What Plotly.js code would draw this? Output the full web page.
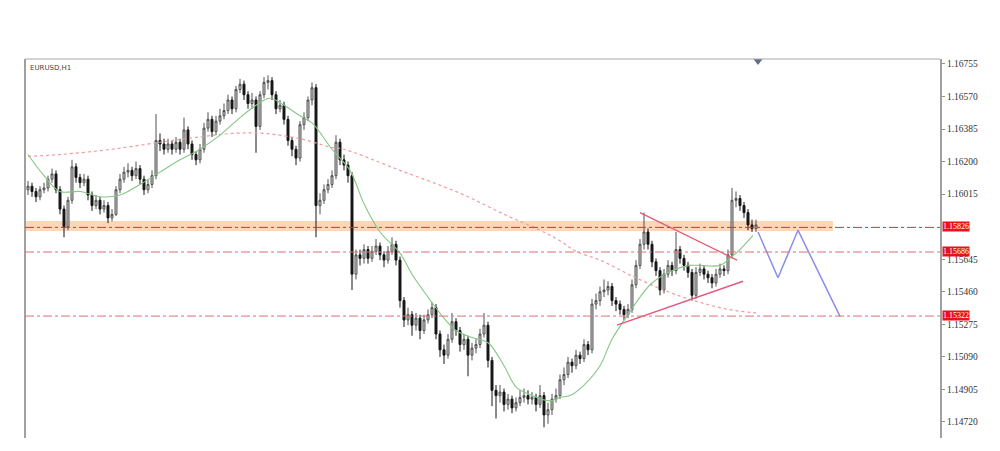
<!DOCTYPE html>
<html>
<head>
<meta charset="utf-8">
<script src="https://cdn.plot.ly/plotly-3.0.1.min.js"></script>
<style>
  html, body { margin: 0; padding: 0; background: #fff; }
  #chart { width: 1000px; height: 451px; }
</style>
</head>
<body>
<div id="chart"></div>
<script>
// EURUSD H1 candles, oldest first
const open = [
  1.1604,1.1606,1.1603,1.1600,1.1604,1.1605,1.1610,1.1613,1.1604,1.1593,
  1.1583,1.1598,1.1617,1.1611,1.1608,1.1610,1.1601,1.1595,1.1598,1.1593,
  1.1595,1.1588,1.1590,1.1604,1.1610,1.1614,1.1615,1.1612,1.1616,1.1610,
  1.1604,1.1607,1.1612,1.1632,1.1630,1.1627,1.1630,1.1627,1.1631,1.1627,
  1.1638,1.1630,1.1624,1.1621,1.1627,1.1639,1.1644,1.1637,1.1643,1.1646,
  1.1649,1.1655,1.1650,1.1661,1.1664,1.1658,1.1653,1.1655,1.1640,1.1658,
  1.1665,1.1666,1.1658,1.1650,1.1652,1.1644,1.1632,1.1627,1.1622,1.1641,
  1.1645,1.1655,1.1662,1.1595,1.1598,1.1604,1.1607,1.1612,1.1631,1.1621,
  1.1618,1.1612,1.1556,1.1567,1.1565,1.1570,1.1565,1.1569,1.1572,1.1567,
  1.1564,1.1569,1.1573,1.1564,1.1541,1.1530,1.1533,1.1527,1.1531,1.1524,
  1.1530,1.1533,1.1537,1.1522,1.1513,1.1510,1.1519,1.1529,1.1524,1.1516,
  1.1519,1.1510,1.1514,1.1516,1.1522,1.1527,1.1507,1.1490,1.1487,1.1489,
  1.1482,1.1485,1.1480,1.1483,1.1486,1.1487,1.1485,1.1486,1.1482,1.1487,
  1.1476,1.1479,1.1485,1.1487,1.1496,1.1499,1.1506,1.1504,1.1510,1.1508,
  1.1516,1.1513,1.1539,1.1541,1.1546,1.1547,1.1549,1.1541,1.1539,1.1536,
  1.1533,1.1536,1.1550,1.1561,1.1573,1.1580,1.1573,1.1563,1.1558,1.1547,
  1.1556,1.1561,1.1558,1.1570,1.1565,1.1561,1.1557,1.1544,1.1557,1.1559,
  1.1556,1.1554,1.1551,1.1556,1.1559,1.1558,1.1567,1.1598,1.1599,1.1595,
  1.1591,1.1584,1.1582
];
const high = [
  1.1609,1.1608,1.1605,1.1606,1.1608,1.1612,1.1616,1.1615,1.1606,1.1595,
  1.1600,1.1621,1.1619,1.1613,1.1613,1.1612,1.1603,1.1601,1.1600,1.1598,
  1.1597,1.1593,1.1606,1.1613,1.1617,1.1619,1.1617,1.1620,1.1618,1.1612,
  1.1610,1.1615,1.1647,1.1636,1.1633,1.1633,1.1632,1.1634,1.1633,1.1645,
  1.1640,1.1632,1.1626,1.1630,1.1642,1.1648,1.1646,1.1646,1.1650,1.1653,
  1.1658,1.1657,1.1663,1.1667,1.1666,1.1660,1.1659,1.1657,1.1660,1.1668,
  1.1669,1.1668,1.1660,1.1655,1.1654,1.1646,1.1634,1.1629,1.1643,1.1648,
  1.1657,1.1665,1.1664,1.1602,1.1607,1.1610,1.1615,1.1635,1.1633,1.1624,
  1.1620,1.1614,1.1570,1.1570,1.1573,1.1572,1.1572,1.1576,1.1574,1.1569,
  1.1572,1.1577,1.1575,1.1566,1.1543,1.1537,1.1535,1.1534,1.1533,1.1533,
  1.1536,1.1540,1.1539,1.1524,1.1516,1.1522,1.1534,1.1531,1.1526,1.1522,
  1.1521,1.1517,1.1519,1.1525,1.1534,1.1529,1.1509,1.1493,1.1493,1.1491,
  1.1488,1.1487,1.1486,1.1490,1.1491,1.1490,1.1489,1.1488,1.1493,1.1489,
  1.1483,1.1488,1.1491,1.1499,1.1503,1.1509,1.1508,1.1513,1.1512,1.1519,
  1.1518,1.1542,1.1545,1.1549,1.1553,1.1552,1.1551,1.1543,1.1541,1.1538,
  1.1539,1.1553,1.1564,1.1576,1.1591,1.1582,1.1575,1.1565,1.1560,1.1559,
  1.1564,1.1563,1.1580,1.1572,1.1567,1.1563,1.1559,1.1560,1.1562,1.1561,
  1.1558,1.1556,1.1559,1.1562,1.1561,1.1570,1.1605,1.1603,1.1601,1.1597,
  1.1593,1.1587,1.1587
];
const low = [
  1.1601,1.1600,1.1597,1.1598,1.1602,1.1603,1.1608,1.1602,1.1590,1.1577,
  1.1581,1.1596,1.1608,1.1605,1.1606,1.1598,1.1592,1.1593,1.1590,1.1591,
  1.1585,1.1586,1.1589,1.1602,1.1608,1.1611,1.1609,1.1610,1.1607,1.1601,
  1.1602,1.1605,1.1610,1.1626,1.1624,1.1625,1.1624,1.1625,1.1624,1.1625,
  1.1627,1.1621,1.1618,1.1619,1.1625,1.1637,1.1634,1.1635,1.1641,1.1644,
  1.1647,1.1647,1.1648,1.1659,1.1655,1.1650,1.1650,1.1625,1.1638,1.1656,
  1.1661,1.1655,1.1647,1.1648,1.1641,1.1629,1.1623,1.1618,1.1620,1.1638,
  1.1643,1.1652,1.1577,1.1590,1.1596,1.1602,1.1605,1.1610,1.1618,1.1615,
  1.1608,1.1547,1.1553,1.1561,1.1562,1.1562,1.1563,1.1567,1.1564,1.1560,
  1.1562,1.1567,1.1561,1.1537,1.1526,1.1527,1.1521,1.1524,1.1519,1.1522,
  1.1528,1.1531,1.1519,1.1509,1.1505,1.1508,1.1517,1.1521,1.1512,1.1513,
  1.1498,1.1507,1.1511,1.1514,1.1520,1.1503,1.1481,1.1474,1.1483,1.1478,
  1.1479,1.1477,1.1478,1.1481,1.1483,1.1482,1.1482,1.1478,1.1480,1.1469,
  1.1471,1.1476,1.1483,1.1485,1.1493,1.1497,1.1500,1.1502,1.1505,1.1506,
  1.1510,1.1511,1.1536,1.1538,1.1543,1.1544,1.1538,1.1535,1.1533,1.1530,
  1.1531,1.1534,1.1548,1.1559,1.1570,1.1570,1.1560,1.1555,1.1544,1.1545,
  1.1554,1.1555,1.1556,1.1562,1.1558,1.1554,1.1541,1.1542,1.1555,1.1553,
  1.1551,1.1548,1.1549,1.1554,1.1555,1.1556,1.1565,1.1594,1.1592,1.1588,
  1.1581,1.1580,1.1580
];
const close = [
  1.1606,1.1603,1.1600,1.1604,1.1605,1.1610,1.1613,1.1604,1.1593,1.1583,
  1.1598,1.1617,1.1611,1.1608,1.1610,1.1601,1.1595,1.1598,1.1593,1.1595,
  1.1588,1.1590,1.1604,1.1610,1.1614,1.1615,1.1612,1.1616,1.1610,1.1604,
  1.1607,1.1612,1.1632,1.1630,1.1627,1.1630,1.1627,1.1631,1.1627,1.1638,
  1.1630,1.1624,1.1621,1.1627,1.1639,1.1644,1.1637,1.1643,1.1646,1.1649,
  1.1655,1.1650,1.1661,1.1664,1.1658,1.1653,1.1655,1.1640,1.1658,1.1665,
  1.1666,1.1658,1.1650,1.1652,1.1644,1.1632,1.1627,1.1622,1.1641,1.1645,
  1.1655,1.1662,1.1595,1.1598,1.1604,1.1607,1.1612,1.1631,1.1621,1.1618,
  1.1612,1.1556,1.1567,1.1565,1.1570,1.1565,1.1569,1.1572,1.1567,1.1564,
  1.1569,1.1573,1.1564,1.1541,1.1530,1.1533,1.1527,1.1531,1.1524,1.1530,
  1.1533,1.1537,1.1522,1.1513,1.1510,1.1519,1.1529,1.1524,1.1516,1.1519,
  1.1510,1.1514,1.1516,1.1522,1.1527,1.1507,1.1490,1.1487,1.1489,1.1482,
  1.1485,1.1480,1.1483,1.1486,1.1487,1.1485,1.1486,1.1482,1.1487,1.1476,
  1.1479,1.1485,1.1487,1.1496,1.1499,1.1506,1.1504,1.1510,1.1508,1.1516,
  1.1513,1.1539,1.1541,1.1546,1.1547,1.1549,1.1541,1.1539,1.1536,1.1533,
  1.1536,1.1550,1.1561,1.1573,1.1580,1.1573,1.1563,1.1558,1.1547,1.1556,
  1.1561,1.1558,1.1570,1.1565,1.1561,1.1557,1.1544,1.1557,1.1559,1.1556,
  1.1554,1.1551,1.1556,1.1559,1.1558,1.1567,1.1598,1.1599,1.1595,1.1591,
  1.1584,1.1582,1.1584
];

// fast moving average (green), by bar number
const maFastBar = [0,4,8,13,18,23,28,33,38,43,48,53,57,60.5,64,68,71,76,80.5,84,88,93,96,100,104,107,111,115,119,122,126,130.5,133,135.5,139,143,146,150,153,156,161,165.5,168,173,176,178,181.25];
const maFastVal = [1.1624,1.1612,1.1603,1.1603,1.1600,1.1601,1.1607,1.1614,1.1621,1.1627,1.1635,1.1645,1.1652,1.1656,1.1652,1.1646,1.1642,1.1627,1.1615,1.1596,1.1580,1.1568,1.1556,1.1543,1.1531,1.1524,1.1520,1.1517,1.1504,1.1492,1.1487,1.1484,1.1486,1.1487,1.1493,1.1504,1.1519,1.1533,1.1543,1.1551,1.1558,1.1561,1.1561,1.1561,1.1566,1.1570,1.1578];

// slow moving average (red, dotted)
const maSlowBar = [0,8,21,33,43,51,59,68,76,79,93,108,120,128,133,137,143,151,160,168,175,182];
const maSlowVal = [1.1623,1.1624,1.1627,1.1631,1.1634,1.1636,1.1636,1.1633,1.1628,1.1627,1.1615,1.1602,1.1589,1.1581,1.1575,1.1569,1.1564,1.1555,1.1546,1.1540,1.1536,1.1534];

// triangle trendlines
const upperLineBar = [153, 177.25];
const upperLineVal = [1.1591, 1.1564];
const lowerLineBar = [147.25, 178.75];
const lowerLineVal = [1.1527, 1.1552];

// projected path
const pathBar = [182.5, 187.5, 192.5, 203];
const pathVal = [1.1580, 1.1554, 1.1581, 1.1532];

// horizontal levels
const levels = [1.15826, 1.15686, 1.15322];
const levelLabels = ['1.15826', '1.15686', '1.15322'];
const zoneLow = 1.15806, zoneHigh = 1.15862, zoneEndBar = 201.25;

// price scale
const tickVals = [1.16755, 1.16570, 1.16385, 1.16200, 1.16015, 1.15645, 1.15460, 1.15275, 1.15090, 1.14905, 1.14720];
const symbolLabel = 'EURUSD,H1';
const currentBar = 182.5;

const bars = close.map((_, i) => i);
const yRange = [1.14629, 1.16783];

const traces = [
  {
    type: 'scatter', mode: 'lines', x: maSlowBar, y: maSlowVal,
    line: { color: '#f09a9a', width: 1.2, dash: 'dot', shape: 'spline' }, hoverinfo: 'skip'
  },
  {
    type: 'scatter', mode: 'lines', x: maFastBar, y: maFastVal,
    line: { color: '#86c686', width: 1.1, shape: 'spline' }, hoverinfo: 'skip'
  },
  {
    type: 'candlestick', x: bars, open: open, high: high, low: low, close: close,
    increasing: { line: { color: '#505050', width: 1 }, fillcolor: '#d6d6d6' },
    decreasing: { line: { color: '#161616', width: 1 }, fillcolor: '#161616' },
    whiskerwidth: 0, hoverinfo: 'skip'
  },
  {
    type: 'scatter', mode: 'lines', x: upperLineBar, y: upperLineVal,
    line: { color: '#e4587a', width: 1.2 }, hoverinfo: 'skip'
  },
  {
    type: 'scatter', mode: 'lines', x: lowerLineBar, y: lowerLineVal,
    line: { color: '#e4587a', width: 1.4 }, hoverinfo: 'skip'
  },
  {
    type: 'scatter', mode: 'lines', x: pathBar, y: pathVal,
    line: { color: '#8a8ee6', width: 1.5 }, hoverinfo: 'skip'
  },
  {
    type: 'scatter', mode: 'markers', x: [currentBar], y: [1.16772],
    marker: { symbol: 'triangle-down', size: 8, color: '#5f7088' },
    cliponaxis: false, hoverinfo: 'skip'
  }
];

const shapes = [
  {
    type: 'rect', xref: 'x', yref: 'y', x0: -0.75, x1: zoneEndBar, y0: zoneLow, y1: zoneHigh,
    fillcolor: '#fcd7b6', line: { width: 0 }, layer: 'below'
  },
  // chart frame (left and top edges)
  { type: 'line', xref: 'paper', yref: 'paper', x0: 0, x1: 0, y0: 0, y1: 1, line: { color: '#a0a0a0', width: 2 } },
  { type: 'line', xref: 'paper', yref: 'paper', x0: 0, x1: 1, y0: 1, y1: 1, line: { color: '#a8a8a8', width: 1 } }
];
levels.forEach((lv, k) => {
  shapes.push({
    type: 'line', xref: 'paper', yref: 'y', x0: 0, x1: 1, y0: lv, y1: lv,
    line: { color: k === 0 ? '#b04040' : '#e07070', width: 1, dash: 'dashdot' }
  });
});

const annotations = [
  {
    xref: 'paper', yref: 'paper', x: 0, y: 1, xanchor: 'left', yanchor: 'top',
    xshift: 3, yshift: -3, showarrow: false, text: symbolLabel,
    font: { family: 'DejaVu Sans', size: 7, color: '#444' }
  }
];
levels.forEach((lv, k) => {
  annotations.push({
    xref: 'paper', yref: 'y', x: 1, y: lv, xanchor: 'left', yanchor: 'middle',
    xshift: 2, yshift: 1, showarrow: false, text: levelLabels[k],
    bgcolor: '#e5141c', borderpad: 0,
    font: { family: 'Liberation Serif', size: 8, color: '#ffffff' }
  });
});

const layout = {
  width: 1000, height: 451,
  margin: { l: 25, r: 60, t: 59, b: 13 },
  paper_bgcolor: '#ffffff', plot_bgcolor: '#ffffff',
  showlegend: false,
  xaxis: {
    range: [-0.75, 228], visible: false, fixedrange: true,
    rangeslider: { visible: false }, showgrid: false, zeroline: false
  },
  yaxis: {
    side: 'right', range: yRange, tickvals: tickVals, tickformat: '.5f',
    ticks: 'outside', ticklen: 3, tickcolor: '#909090',
    showline: true, linecolor: '#a0a0a0', linewidth: 2,
    showgrid: false, zeroline: false, fixedrange: true,
    tickfont: { family: 'Liberation Serif', size: 9.5, color: '#333' }
  },
  shapes: shapes,
  annotations: annotations
};

Plotly.newPlot('chart', traces, layout, { staticPlot: true, displayModeBar: false });
</script>
</body>
</html>
